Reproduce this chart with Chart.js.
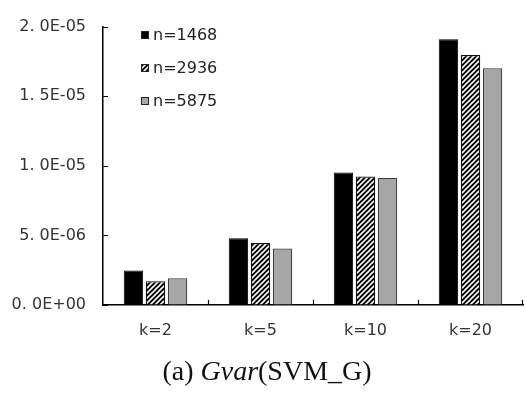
<!DOCTYPE html>
<html>
<head>
<meta charset="utf-8">
<script src="https://cdn.jsdelivr.net/npm/chart.js@4.4.0/dist/chart.umd.min.js"></script>
<style>
    html, body { margin: 0; padding: 0; background: #fff; }
    #wrap { width: 525px; height: 399px; position: relative; }
</style>
</head>
<body>
<div id="wrap"><canvas id="chart"></canvas></div>
<script>
// Chart data
const categories = ['k=2', 'k=5', 'k=10', 'k=20'];
const seriesNames = ['n=1468', 'n=2936', 'n=5875'];
const n1468 = [2.47e-6, 4.79e-6, 9.52e-6, 19.1e-6];
const n2936 = [1.71e-6, 4.45e-6, 9.23e-6, 17.96e-6];
const n5875 = [1.92e-6, 4.06e-6, 9.13e-6, 17.0e-6];
const yTickLabels = ['0. 0E+00', '5. 0E-06', '1. 0E-05', '1. 5E-05', '2. 0E-05'];

const tickFont = '"DejaVu Sans", sans-serif';

// Diagonal hatch pattern for the middle series
function makeHatch() {
    const c = document.createElement('canvas');
    c.width = 5;
    c.height = 5;
    const g = c.getContext('2d');
    g.fillStyle = '#000';
    g.fillRect(0, 0, 5, 5);
    g.strokeStyle = '#fff';
    g.lineWidth = 1.6;
    g.beginPath();
    g.moveTo(0, 5); g.lineTo(5, 0);
    g.moveTo(-1, 1); g.lineTo(1, -1);
    g.moveTo(4, 6); g.lineTo(6, 4);
    g.stroke();
    return g.createPattern(c, 'repeat');
}

// Inward tick marks on both axes
const innerTicks = {
    id: 'innerTicks',
    afterDatasetsDraw(chart) {
        const ctx = chart.ctx;
        const x = chart.scales.x;
        const y = chart.scales.y;
        ctx.save();
        ctx.strokeStyle = '#000';
        ctx.lineWidth = 1.2;
        ctx.beginPath();
        y.ticks.forEach((t, i) => {
            const py = Math.round(y.getPixelForTick(i)) + 0.5;
            ctx.moveTo(y.right, py);
            ctx.lineTo(y.right + 5, py);
        });
        for (let i = 0; i < categories.length; i++) {
            let px;
            if (i < categories.length - 1) {
                px = (x.getPixelForValue(i) + x.getPixelForValue(i + 1)) / 2;
            } else {
                px = x.right - 1;
            }
            px = Math.round(px) + 0.5;
            ctx.moveTo(px, x.top);
            ctx.lineTo(px, x.top - 5);
        }
        ctx.stroke();
        ctx.restore();
    }
};

// Legend drawn inside the plot area
const innerLegend = {
    id: 'innerLegend',
    afterDraw(chart) {
        const ctx = chart.ctx;
        ctx.save();
        ctx.font = '16px ' + tickFont;
        ctx.textBaseline = 'middle';
        chart.data.datasets.forEach((ds, i) => {
            const cy = 35 + i * 33;
            ctx.fillStyle = ds.backgroundColor;
            ctx.fillRect(141, cy - 4, 8, 8);
            ctx.strokeStyle = '#222';
            ctx.lineWidth = 1;
            ctx.strokeRect(141.5, cy - 3.5, 7, 7);
            ctx.fillStyle = '#222';
            ctx.fillText(ds.label, 153, cy + 1);
        });
        ctx.restore();
    }
};

// Caption below the chart, with italic function name
const caption = {
    id: 'caption',
    afterDraw(chart) {
        const ctx = chart.ctx;
        const parts = [
            { t: '(a) ', f: '28px "Liberation Serif", serif' },
            { t: 'Gvar', f: 'italic 28px "Liberation Serif", serif' },
            { t: '(SVM_G)', f: '28px "Liberation Serif", serif' }
        ];
        ctx.save();
        let total = 0;
        parts.forEach(p => { ctx.font = p.f; p.w = ctx.measureText(p.t).width; total += p.w; });
        let cx = 267 - total / 2;
        ctx.fillStyle = '#111';
        ctx.textBaseline = 'middle';
        parts.forEach(p => {
            ctx.font = p.f;
            ctx.fillText(p.t, cx, 373);
            cx += p.w;
        });
        ctx.restore();
    }
};

const ctx = document.getElementById('chart').getContext('2d');

new Chart(ctx, {
    type: 'bar',
    data: {
        labels: categories,
        datasets: [
            {
                label: seriesNames[0],
                data: n1468,
                backgroundColor: '#000000',
                borderColor: '#000000',
                borderWidth: 1
            },
            {
                label: seriesNames[1],
                data: n2936,
                backgroundColor: makeHatch(),
                borderColor: '#111111',
                borderWidth: 1.2
            },
            {
                label: seriesNames[2],
                data: n5875,
                backgroundColor: '#a6a6a6',
                borderColor: '#3a3a3a',
                borderWidth: 1.2
            }
        ]
    },
    options: {
        responsive: true,
        maintainAspectRatio: false,
        animation: false,
        categoryPercentage: 0.63,
        barPercentage: 0.88,
        layout: {
            padding: { top: 13, right: 2, left: 0, bottom: 0 }
        },
        scales: {
            y: {
                min: 0,
                max: 2e-5,
                afterFit(scale) { scale.width = 103; },
                ticks: {
                    stepSize: 5e-6,
                    padding: 17,
                    color: '#333',
                    font: { family: tickFont, size: 16 },
                    callback: (v, i) => yTickLabels[i]
                },
                grid: { drawOnChartArea: false, drawTicks: false },
                border: { display: true, color: '#000', width: 1.5 }
            },
            x: {
                afterFit(scale) { scale.height = 94; },
                ticks: {
                    padding: 16,
                    color: '#333',
                    font: { family: tickFont, size: 16 }
                },
                grid: { drawOnChartArea: false, drawTicks: false },
                border: { display: true, color: '#000', width: 1.5 }
            }
        },
        plugins: {
            legend: { display: false },
            tooltip: { enabled: false }
        }
    },
    plugins: [innerTicks, innerLegend, caption]
});
</script>
</body>
</html>
